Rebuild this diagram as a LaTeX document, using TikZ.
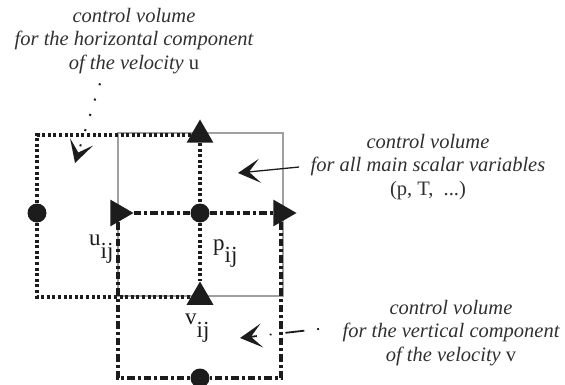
\documentclass[tikz,border=0pt]{standalone}
\usepackage{fontspec}
\setmainfont{Liberation Serif}
\usepackage{xcolor}
\usepackage{tikz}
\usetikzlibrary{arrows.meta,shapes.geometric,calc}
\definecolor{CVInk}{HTML}{1C1C1C}
\definecolor{CVGrey}{HTML}{A0A0A0}
\definecolor{CVText}{HTML}{303030}

\begin{document}
\begin{tikzpicture}[x=1pt,y=-1pt,
 scalarbox/.style={draw=CVGrey,line width=1.1pt},
 ubox/.style={draw=CVInk,line width=3.2pt,dash pattern=on 3pt off 2.6pt},
 vbox/.style={draw=CVInk,line width=3.2pt,dash pattern=on 7.5pt off 3pt on 3pt off 3pt},
 vel/.style={regular polygon,regular polygon sides=3,fill=CVInk,inner sep=0pt,minimum size=31pt},
 pres/.style={circle,fill=CVInk,inner sep=0pt,minimum size=19pt},
 var/.style={font=\fontsize{23}{27}\selectfont,color=CVInk,inner sep=0pt,anchor=base west},
 note/.style={font=\fontsize{20.5}{23.5}\selectfont\itshape,color=CVText,align=center},
 chev/.style={-{Stealth[length=22pt,width=24pt,inset=11pt]}},
 hlead/.style={draw=CVInk,line width=2pt,dash pattern=on 2pt off 14pt},
 slead/.style={draw=CVInk,line width=1.3pt},
 vlead/.style={draw=CVInk,line width=1.8pt,dash pattern=on 1.8pt off 13pt on 19pt off 14pt}]
\useasboundingbox (0,0) rectangle (565,385);
\coordinate (ul) at (37,133);
\coordinate (um) at (118,133);
\coordinate (ur) at (283,133);
\coordinate (bm) at (118,296);
\coordinate (br) at (283,296);
\draw[scalarbox] (um) -- (ur) -- (br) -- (bm) -- cycle;
\node[vel] (vt) at (200,135) {};
\node[pres] (pw) at (37,213) {};
\node[vel,rotate=-90] (u) at (118,213) {};
\node[pres] (p) at (200,213) {};
\node[vel,rotate=-90] (ue) at (281,213) {};
\node[vel] (v) at (200,297) {};
\node[pres] (ps) at (200,378) {};
\draw[ubox] (vt) -| (pw);
\draw[ubox] (pw) |- (v);
\draw[ubox] (vt) -- (p);
\draw[ubox] (p) -- (v);
\draw[vbox] (u) -- (p);
\draw[vbox] (p) -- (ue);
\draw[vbox] (u) |- (ps);
\draw[vbox] (ue) |- (ps);
\node[var] (ulab) at (89,245) {u\raisebox{-13pt}{ij}};
\node[var] (plab) at (213,250) {p\raisebox{-12pt}{ij}};
\node[var] (vlab) at (185,324) {v\raisebox{-13pt}{ij}};
\node[note] (hcv) at (134,41) {control volume\\for the horizontal component\\of the velocity \textup{u}};
\node[note] (scv) at (428,167) {control volume\\for all main scalar variables\\\textup{(p, T,\ \ ...)}};
\node[note] (vcv) at (451,333) {control volume\\for the vertical component\\of the velocity \textup{v}};
\coordinate (htip) at (75,163);
\coordinate (stip) at (238,173);
\coordinate (vtip) at (240,338);
\draw[hlead,chev] ([xshift=-34pt,yshift=-6pt]hcv.south) -- (htip);
\draw[slead,chev] ([xshift=-8pt]scv.west) -- (stip);
\draw[vlead,chev] ([xshift=-20pt,yshift=4pt]vcv.west) -- (vtip);
\end{tikzpicture}
\end{document}
